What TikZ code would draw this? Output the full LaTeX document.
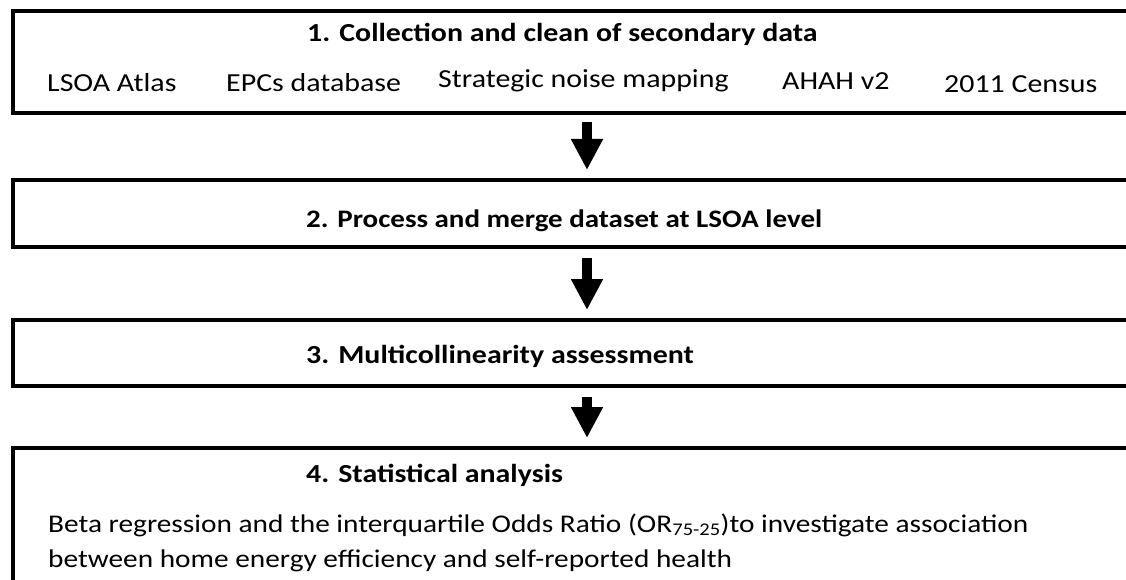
\documentclass[tikz,border=0pt]{standalone}
\usepackage{fontspec}
\setmainfont{Carlito}[FakeStretch=1.15]
\usetikzlibrary{arrows.meta}
\usetikzlibrary{positioning}

\tikzset{
  stagebox/.style={rectangle, draw, line width=4pt, minimum width=1122pt, inner sep=0pt},
  stagetitle/.style={anchor=base west, inner sep=0pt, font=\fontsize{26}{30}\selectfont\bfseries},
  itemtext/.style={anchor=base west, inner sep=0pt, font=\fontsize{26}{30}\selectfont},
  bodytext/.style={anchor=base west, inner sep=0pt, font=\fontsize{25.5}{30}\selectfont},
  flowarrow/.style={line width=10pt, -{Triangle[width=30pt,length=31pt]}}
}

\begin{document}
\begin{tikzpicture}[x=1pt,y=-1pt]
  \useasboundingbox (0,0) rectangle (1126,580);
  \fill [white] (0,0) rectangle (1126,580);
  \clip (0,0) rectangle (1126,580);

  \node [stagebox, minimum height=102pt] (collect) at (574,62) {};
  \node [stagebox, minimum height=67pt] (merge) at (574,213.5) {};
  \node [stagebox, minimum height=66pt] (assess) at (574,353) {};
  \node [stagebox, minimum height=172pt] (analysis) at (574,534) {};

  \node [stagetitle] (collecttitle) at (307,42) {1. Collection and clean of secondary data};
  \node [itemtext] (atlas) at (47,92) {LSOA Atlas};
  \node [itemtext] (epcs) at (226,92) {EPCs database};
  \node [itemtext] (noise) at (438,88) {Strategic noise mapping};
  \node [itemtext] (ahah) at (782,90) {AHAH v2};
  \node [itemtext] (census) at (944,93) {2011 Census};

  \node [stagetitle, font=\fontsize{25.2}{30}\selectfont\bfseries] (mergetitle) at (306,227) {2. Process and merge dataset at LSOA level};
  \node [stagetitle] (assesstitle) at (306,363) {3. Multicollinearity assessment};
  \node [stagetitle] (analysistitle) at (306,482) {4. Statistical analysis};
  \node [bodytext] (betaline) at (48,532) {Beta regression and the interquartile Odds Ratio (OR\textsubscript{75-25})to investigate association};
  \node [bodytext] (healthline) at (48,567) {between home energy efficiency and self-reported health};

  \draw [flowarrow] ([xshift=13pt,yshift=-7pt]collect.south) -- ([xshift=13pt,yshift=8pt]merge.north);
  \draw [flowarrow] ([xshift=13pt,yshift=-9pt]merge.south) -- ([xshift=13pt,yshift=8pt]assess.north);
  \draw [flowarrow] ([xshift=13pt,yshift=-9pt]assess.south) -- ([xshift=13pt,yshift=8pt]analysis.north);
\end{tikzpicture}
\end{document}
